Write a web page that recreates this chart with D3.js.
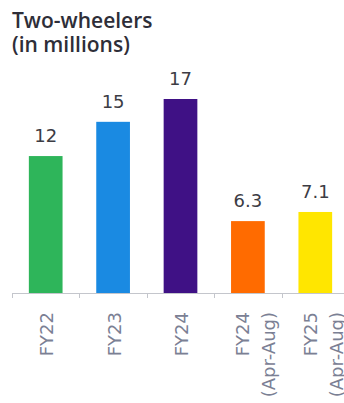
<!DOCTYPE html>
<html>
<head>
<meta charset="utf-8">
<script src="https://cdn.jsdelivr.net/npm/d3@7"></script>
<style>
  body { margin: 0; background: #fff; }
  svg { display: block; }
</style>
</head>
<body>
<div id="chart"></div>
<script>
// chart size
var width = 344;
var height = 403;

// data
var titleLines = ["Two-wheelers", "(in millions)"];
var categories = ["FY22", "FY23", "FY24", "FY24 (Apr-Aug)", "FY25 (Apr-Aug)"];
var labelLines = [["FY22"], ["FY23"], ["FY24"], ["FY24", "(Apr-Aug)"], ["FY25", "(Apr-Aug)"]];
var values = [12, 15, 17, 6.3, 7.1];
var valueLabels = ["12", "15", "17", "6.3", "7.1"];
var barColors = ["#2eb55a", "#1a8ae2", "#3f1185", "#ff6b00", "#ffe600"];

var baseY = 293;

var x = d3.scaleBand()
  .domain(categories)
  .range([12, 349])
  .paddingInner(0.5)
  .paddingOuter(0.25);

var y = d3.scaleLinear()
  .domain([0, 17])
  .range([baseY, 99]);

var svg = d3.select("#chart").append("svg")
  .attr("width", width)
  .attr("height", height);

// title, one text per line
svg.selectAll("text.title")
  .data(titleLines)
  .enter()
  .append("text")
  .attr("class", "title")
  .attr("x", 12)
  .attr("y", function(d, i) { return 28 + i * 24; })
  .style("font-family", "'Open Sans', sans-serif")
  .style("font-weight", "600")
  .style("font-size", "21px")
  .style("fill", "#2e2e38")
  .text(function(d) { return d; });

// bars
svg.selectAll("rect.bar")
  .data(values)
  .enter()
  .append("rect")
  .attr("class", "bar")
  .attr("x", function(d, i) { return x(categories[i]); })
  .attr("width", x.bandwidth())
  .attr("y", function(d) { return y(d); })
  .attr("height", function(d) { return baseY - y(d); })
  .style("fill", function(d, i) { return barColors[i]; });

// value labels
svg.selectAll("text.val")
  .data(values)
  .enter()
  .append("text")
  .attr("class", "val")
  .attr("x", function(d, i) { return x(categories[i]) + x.bandwidth() / 2; })
  .attr("y", function(d) { return y(d) - 14; })
  .attr("text-anchor", "middle")
  .style("font-family", "'DejaVu Sans', Verdana, sans-serif")
  .style("font-size", "18px")
  .style("fill", "#3c3c44")
  .text(function(d, i) { return valueLabels[i]; });

// axis line + ticks at band edges
svg.append("line")
  .attr("x1", 12).attr("x2", width)
  .attr("y1", baseY + 0.5).attr("y2", baseY + 0.5)
  .style("stroke", "#c4c6cc")
  .style("stroke-width", 1);

svg.selectAll("line.tick")
  .data(categories)
  .enter()
  .append("line")
  .attr("class", "tick")
  .attr("x1", function(c) { return Math.round(x(c) - x.step() * 0.25) + 0.5; })
  .attr("x2", function(c) { return Math.round(x(c) - x.step() * 0.25) + 0.5; })
  .attr("y1", baseY)
  .attr("y2", baseY + 5)
  .style("stroke", "#c4c6cc");

// category labels, rotated
var cat = svg.selectAll("g.cat")
  .data(labelLines)
  .enter()
  .append("g")
  .attr("class", "cat")
  .attr("transform", function(d, i) {
    var cx = x(categories[i]) + x.bandwidth() / 2;
    var off = d.length > 1 ? -5 : 1;
    return "translate(" + (cx + off) + "," + (baseY + 19) + ") rotate(-90)";
  });

cat.each(function(lines) {
  var t = d3.select(this).append("text")
    .attr("text-anchor", "end")
    .style("font-family", "'DejaVu Sans', Verdana, sans-serif")
    .style("font-size", "18px")
    .style("fill", "#7b8094");
  lines.forEach(function(l, j) {
    t.append("tspan")
      .attr("x", 0)
      .attr("y", 6.5 + j * 26)
      .text(l);
  });
});
</script>
</body>
</html>
